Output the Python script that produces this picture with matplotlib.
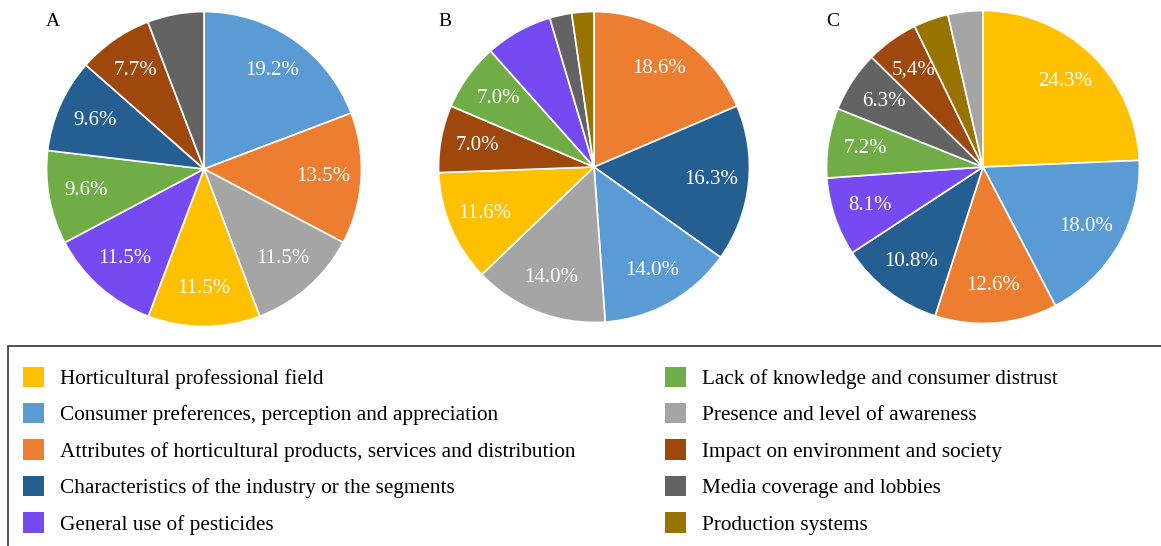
import matplotlib
matplotlib.use("Agg")
import matplotlib.pyplot as plt
from matplotlib.patches import Patch, Rectangle
import numpy as np

plt.rcParams["font.family"] = ["Liberation Serif", "DejaVu Serif"]

categorias = [
    "Horticultural professional field",
    "Consumer preferences, perception and appreciation",
    "Attributes of horticultural products, services and distribution",
    "Characteristics of the industry or the segments",
    "General use of pesticides",
    "Lack of knowledge and consumer distrust",
    "Presence and level of awareness",
    "Impact on environment and society",
    "Media coverage and lobbies",
    "Production systems",
]
colores = {
    "Horticultural professional field": "#FFC000",
    "Consumer preferences, perception and appreciation": "#5B9BD5",
    "Attributes of horticultural products, services and distribution": "#ED7D31",
    "Characteristics of the industry or the segments": "#255E91",
    "General use of pesticides": "#764AF1",
    "Lack of knowledge and consumer distrust": "#70AD47",
    "Presence and level of awareness": "#A5A5A5",
    "Impact on environment and society": "#9E480E",
    "Media coverage and lobbies": "#636363",
    "Production systems": "#997300",
}

# orden de las porciones (sentido horario desde arriba) y porcentajes
orden_A = [1, 2, 6, 0, 4, 5, 3, 7, 8]
valores_A = [19.2, 13.5, 11.5, 11.5, 11.5, 9.6, 9.6, 7.7, 5.8]
etiquetas_A = ["19.2%", "13.5%", "11.5%", "11.5%", "11.5%", "9.6%", "9.6%", "7.7%", ""]

orden_B = [2, 3, 1, 6, 0, 7, 5, 4, 8, 9]
valores_B = [18.6, 16.3, 14.0, 14.0, 11.6, 7.0, 7.0, 7.0, 2.3, 2.3]
etiquetas_B = ["18.6%", "16.3%", "14.0%", "14.0%", "11.6%", "7.0%", "7.0%", "", "", ""]

orden_C = [0, 1, 2, 3, 4, 5, 8, 7, 9, 6]
valores_C = [24.3, 18.0, 12.6, 10.8, 8.1, 7.2, 6.3, 5.4, 3.6, 3.6]
etiquetas_C = ["24.3%", "18.0%", "12.6%", "10.8%", "8.1%", "7.2%", "6.3%", "5,4%", "", ""]

W, H = 1161, 546
fig = plt.figure(figsize=(W / 100, H / 100), dpi=100)

paneles = [
    ("A", orden_A, valores_A, etiquetas_A, (204, 169, 159)),
    ("B", orden_B, valores_B, etiquetas_B, (594, 167, 157)),
    ("C", orden_C, valores_C, etiquetas_C, (983, 167, 158)),
]

for letra, orden, valores, etiquetas, (cx, cy, r) in paneles:
    ax = fig.add_axes([(cx - r) / W, 1 - (cy + r) / H, 2 * r / W, 2 * r / H])
    cols = [colores[categorias[i]] for i in orden]
    wedges, _ = ax.pie(valores, colors=cols, startangle=90, counterclock=False,
                       wedgeprops=dict(edgecolor="white", linewidth=1.2))
    for w, et in zip(wedges, etiquetas):
        if not et:
            continue
        ang = np.deg2rad((w.theta1 + w.theta2) / 2)
        ax.text(0.76 * np.cos(ang), 0.76 * np.sin(ang), et, ha="center", va="center",
                color="white", fontsize=15)
    ax.set_xlim(-1.01, 1.01)
    ax.set_ylim(-1.01, 1.01)
    ax.axis("off")
    fig.text((cx - r + 1) / W, 1 - 22 / H, letra, fontsize=14, ha="left", va="center")

# marco de la leyenda
fig.patches.append(Rectangle((8 / W, -0.05), 1.2, (H - 346) / H + 0.05,
                             transform=fig.transFigure, fill=False,
                             edgecolor="#333333", linewidth=1.2))

handles = [Patch(facecolor=colores[c], edgecolor="none") for c in categorias]
for k, x0 in enumerate([14, 656]):
    fig.legend(handles[5 * k:5 * k + 5], categorias[5 * k:5 * k + 5],
               loc="upper left", bbox_to_anchor=(x0 / W, 1 - 358 / H),
               frameon=False, fontsize=15.3, handlelength=1.03, handleheight=1.1,
               handletextpad=0.75, labelspacing=0.66, borderaxespad=0)

fig.savefig("out.png", dpi=100)
